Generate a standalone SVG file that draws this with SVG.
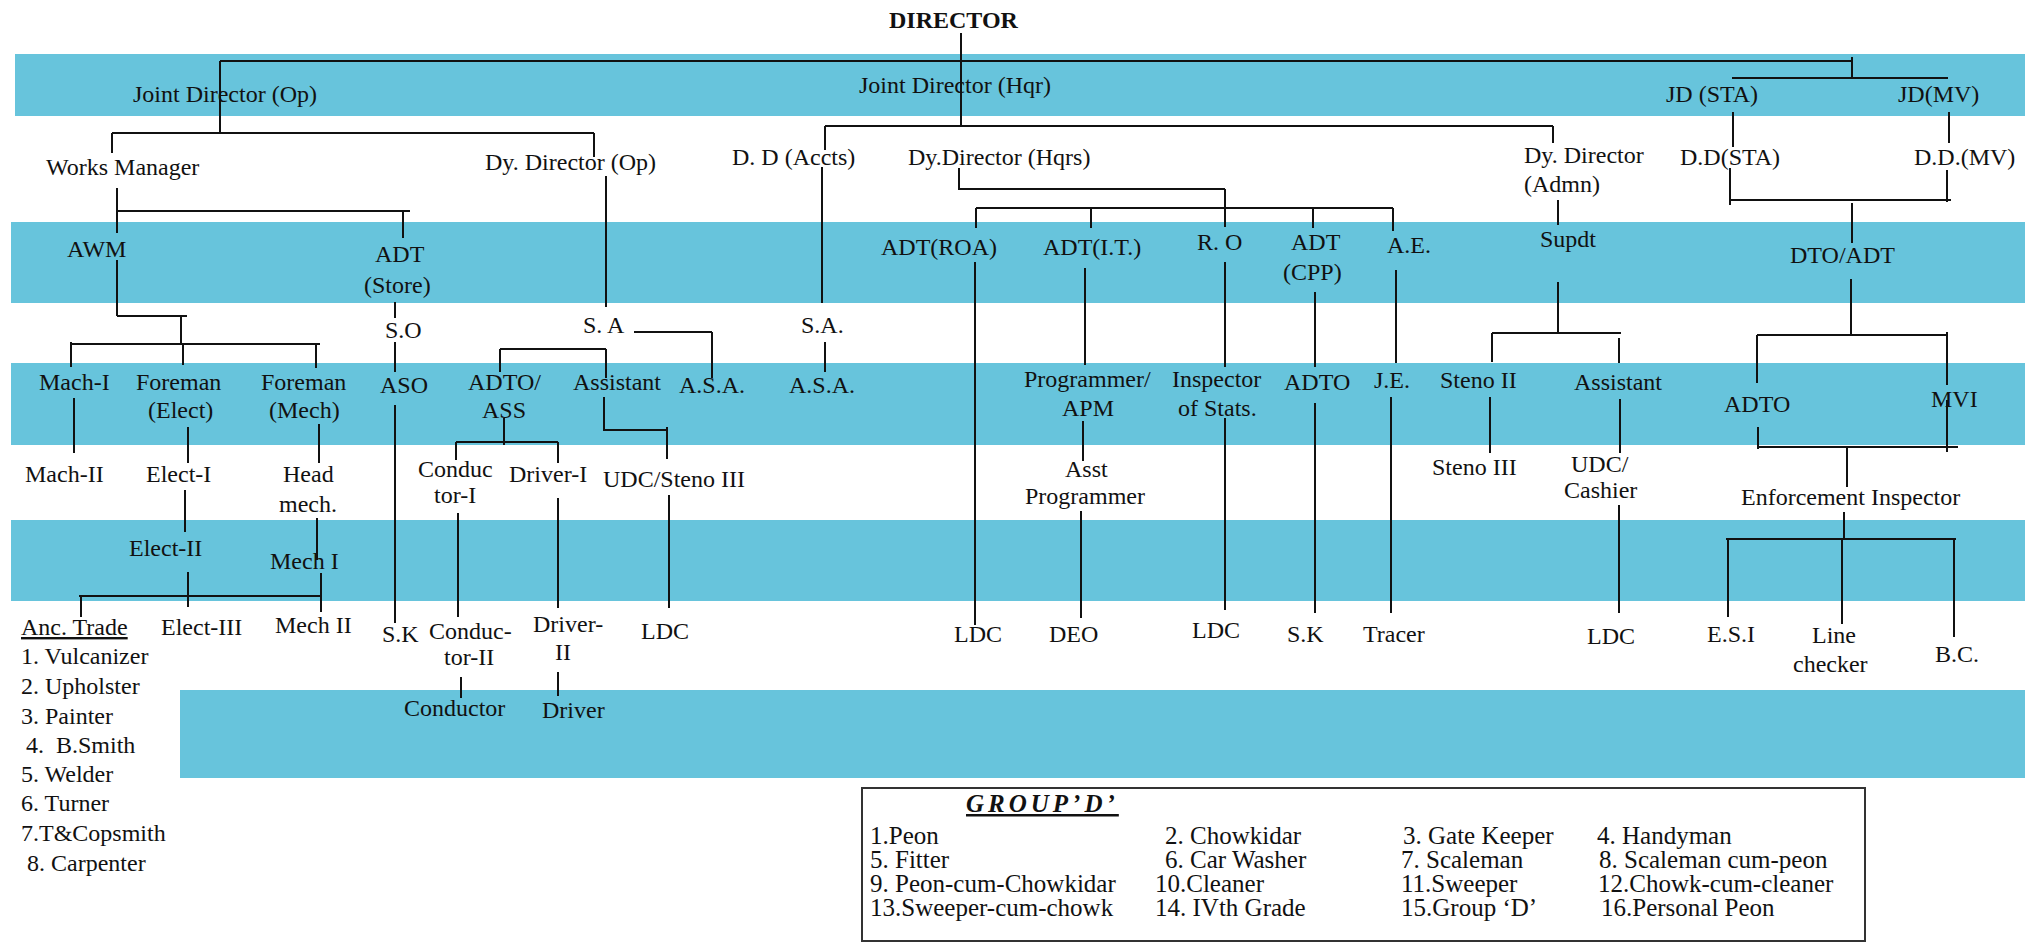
<svg xmlns="http://www.w3.org/2000/svg" width="2025" height="947" viewBox="0 0 2025 947">
<style>
  .band { fill: #67c4dc; }
  .t { font-family: "Liberation Serif", "Times New Roman", serif; font-size: 24px; fill: #111; }
  .b { font-weight: bold; }
  .c path { stroke: #111; stroke-width: 2; fill: none; }
  .box { fill: none; stroke: #333; stroke-width: 2; }
  .gd { font-family: "Liberation Serif", "Times New Roman", serif; font-size: 25px; fill: #111; }
</style>
<rect width="2025" height="947" fill="#ffffff"/>

<!-- horizontal colour bands -->
<g id="bands">
  <rect class="band" x="15" y="54" width="2010" height="62"/>
  <rect class="band" x="11" y="222" width="2014" height="81"/>
  <rect class="band" x="11" y="363" width="2014" height="82"/>
  <rect class="band" x="11" y="520" width="2014" height="81"/>
  <rect class="band" x="180" y="690" width="1845" height="88"/>
</g>

<!-- reporting lines -->
<g id="connectors" class="c">
  <path d="M961 33V125"/>
  <path d="M220 61H1852M1852 57V78M1732 78H1948"/>
  <path d="M220 61V133M112 133H594M112 133V153M594 133V157"/>
  <path d="M825 126H1553M825 126V150M1553 126V143"/>
  <path d="M117 188V233M117 211H410M403 211V238"/>
  <path d="M117 260V316M117 316H187M181 316V344"/>
  <path d="M71 344H320M71 342V367M183 344V365M316 344V368"/>
  <path d="M606 176V307"/>
  <path d="M395 302V318M395 342V372M395 405V623"/>
  <path d="M634 332H712M712 332V378"/>
  <path d="M500 349H606M500 349V372M606 349V378"/>
  <path d="M604 397V430H667M667 427V459"/>
  <path d="M504 418V445M456 442H558M456 442V460M558 442V463"/>
  <path d="M822 167V303M825 342V372"/>
  <path d="M959 168V189H1225M1225 189V227"/>
  <path d="M976 208H1393M976 208V228M1091 208V228M1313 208V228M1393 208V231"/>
  <path d="M975 262V625"/>
  <path d="M1085 268V365M1083 421V461M1081 511V618"/>
  <path d="M1225 262V367M1225 418V610"/>
  <path d="M1315 292V367M1315 403V613"/>
  <path d="M1396 270V363M1391 397V613"/>
  <path d="M1558 200V225M1558 282V333M1492 333H1621M1492 333V362M1619 338V363"/>
  <path d="M1490 397V453M1620 399V453M1619 505V613"/>
  <path d="M1733 112V147M1730 168V205M1949 112V143M1947 170V202M1729 200H1951"/>
  <path d="M1852 203V243M1851 279V335M1757 335H1947M1757 335V383M1947 332V385"/>
  <path d="M1758 427V449M1947 400V452M1758 447H1958M1847 447V487"/>
  <path d="M1844 512V539M1726 539H1956M1728 539V617M1842 539V624M1954 539V637"/>
  <path d="M74 398V453M188 427V463M319 424V463"/>
  <path d="M185 490V532M317 518V560M188 572V607"/>
  <path d="M79 596H321M81 596V617M321 573V612"/>
  <path d="M458 513V617M558 498V608M669 495V608"/>
  <path d="M461 677V698M558 672V696"/>
</g>

<!-- posts -->
<g id="director"><text class="t b" x="889" y="28" font-size="25">DIRECTOR</text></g>
<g id="jd-op"><text class="t" x="133" y="102">Joint Director (Op)</text></g>
<g id="jd-hqr"><text class="t" x="859" y="93">Joint Director (Hqr)</text></g>
<g id="jd-sta"><text class="t" x="1666" y="102">JD (STA)</text></g>
<g id="jd-mv"><text class="t" x="1898" y="102">JD(MV)</text></g>
<g id="works-manager"><text class="t" x="46" y="175">Works Manager</text></g>
<g id="dd-op"><text class="t" x="485" y="170">Dy. Director (Op)</text></g>
<g id="dd-accts"><text class="t" x="732" y="165">D. D (Accts)</text></g>
<g id="dd-hqrs"><text class="t" x="908" y="165">Dy.Director (Hqrs)</text></g>
<g id="dd-admn"><text class="t" x="1524" y="163">Dy. Director</text><text class="t" x="1524" y="192">(Admn)</text></g>
<g id="dd-sta"><text class="t" x="1680" y="165">D.D(STA)</text></g>
<g id="dd-mv"><text class="t" x="1914" y="165">D.D.(MV)</text></g>

<g id="awm"><text class="t" x="67" y="257">AWM</text></g>
<g id="adt-store"><text class="t" x="375" y="262">ADT</text><text class="t" x="364" y="293">(Store)</text></g>
<g id="adt-roa"><text class="t" x="881" y="255">ADT(ROA)</text></g>
<g id="adt-it"><text class="t" x="1043" y="255">ADT(I.T.)</text></g>
<g id="ro"><text class="t" x="1197" y="250">R. O</text></g>
<g id="adt-cpp"><text class="t" x="1291" y="250">ADT</text><text class="t" x="1283" y="280">(CPP)</text></g>
<g id="ae"><text class="t" x="1387" y="253">A.E.</text></g>
<g id="supdt"><text class="t" x="1540" y="247">Supdt</text></g>
<g id="dto-adt"><text class="t" x="1790" y="263">DTO/ADT</text></g>

<g id="so"><text class="t" x="385" y="338">S.O</text></g>
<g id="sa-op"><text class="t" x="583" y="333">S. A</text></g>
<g id="sa-accts"><text class="t" x="801" y="333">S.A.</text></g>

<g id="mach-1"><text class="t" x="39" y="390">Mach-I</text></g>
<g id="foreman-elect"><text class="t" x="136" y="390">Foreman</text><text class="t" x="148" y="418">(Elect)</text></g>
<g id="foreman-mech"><text class="t" x="261" y="390">Foreman</text><text class="t" x="269" y="418">(Mech)</text></g>
<g id="aso"><text class="t" x="380" y="393">ASO</text></g>
<g id="adto-ass"><text class="t" x="468" y="390">ADTO/</text><text class="t" x="482" y="418">ASS</text></g>
<g id="assistant-op"><text class="t" x="573" y="390">Assistant</text></g>
<g id="asa-op"><text class="t" x="679" y="393">A.S.A.</text></g>
<g id="asa-accts"><text class="t" x="789" y="393">A.S.A.</text></g>
<g id="programmer-apm"><text class="t" x="1024" y="387">Programmer/</text><text class="t" x="1062" y="416">APM</text></g>
<g id="inspector-stats"><text class="t" x="1172" y="387">Inspector</text><text class="t" x="1178" y="416">of Stats.</text></g>
<g id="adto-cpp"><text class="t" x="1284" y="390">ADTO</text></g>
<g id="je"><text class="t" x="1374" y="388">J.E.</text></g>
<g id="steno-2"><text class="t" x="1440" y="388">Steno II</text></g>
<g id="assistant-admn"><text class="t" x="1574" y="390">Assistant</text></g>
<g id="adto-dto"><text class="t" x="1724" y="412">ADTO</text></g>
<g id="mvi"><text class="t" x="1931" y="407">MVI</text></g>

<g id="mach-2"><text class="t" x="25" y="482">Mach-II</text></g>
<g id="elect-1"><text class="t" x="146" y="482">Elect-I</text></g>
<g id="head-mech"><text class="t" x="283" y="482">Head</text><text class="t" x="279" y="512">mech.</text></g>
<g id="conductor-1"><text class="t" x="418" y="477">Conduc</text><text class="t" x="434" y="503">tor-I</text></g>
<g id="driver-1"><text class="t" x="509" y="482">Driver-I</text></g>
<g id="udc-steno"><text class="t" x="603" y="487">UDC/Steno III</text></g>
<g id="asst-programmer"><text class="t" x="1065" y="477">Asst</text><text class="t" x="1025" y="504">Programmer</text></g>
<g id="steno-3"><text class="t" x="1432" y="475">Steno III</text></g>
<g id="udc-cashier"><text class="t" x="1571" y="472">UDC/</text><text class="t" x="1564" y="498">Cashier</text></g>
<g id="enforcement-inspector"><text class="t" x="1741" y="505">Enforcement Inspector</text></g>

<g id="elect-2"><text class="t" x="129" y="556">Elect-II</text></g>
<g id="mech-1"><text class="t" x="270" y="569">Mech I</text></g>

<g id="anc-trade">
  <text class="t" x="21" y="635" text-decoration="underline">Anc. Trade</text>
  <text class="t" x="21" y="664">1. Vulcanizer</text>
  <text class="t" x="21" y="694">2. Upholster</text>
  <text class="t" x="21" y="724">3. Painter</text>
  <text class="t" x="26" y="753" xml:space="preserve">4.  B.Smith</text>
  <text class="t" x="21" y="782">5. Welder</text>
  <text class="t" x="21" y="811">6. Turner</text>
  <text class="t" x="21" y="841">7.T&amp;Copsmith</text>
  <text class="t" x="27" y="871">8. Carpenter</text>
</g>
<g id="elect-3"><text class="t" x="161" y="635">Elect-III</text></g>
<g id="mech-2"><text class="t" x="275" y="633">Mech II</text></g>
<g id="sk-store"><text class="t" x="382" y="642">S.K</text></g>
<g id="conductor-2"><text class="t" x="429" y="639">Conduc-</text><text class="t" x="444" y="665">tor-II</text></g>
<g id="driver-2"><text class="t" x="533" y="632">Driver-</text><text class="t" x="555" y="660">II</text></g>
<g id="ldc-op"><text class="t" x="641" y="639">LDC</text></g>
<g id="ldc-roa"><text class="t" x="954" y="642">LDC</text></g>
<g id="deo"><text class="t" x="1049" y="642">DEO</text></g>
<g id="ldc-ro"><text class="t" x="1192" y="638">LDC</text></g>
<g id="sk-cpp"><text class="t" x="1287" y="642">S.K</text></g>
<g id="tracer"><text class="t" x="1363" y="642">Tracer</text></g>
<g id="ldc-admn"><text class="t" x="1587" y="644">LDC</text></g>
<g id="esi"><text class="t" x="1707" y="642">E.S.I</text></g>
<g id="line-checker"><text class="t" x="1812" y="643">Line</text><text class="t" x="1793" y="672">checker</text></g>
<g id="bc"><text class="t" x="1935" y="662">B.C.</text></g>
<g id="conductor"><text class="t" x="404" y="716">Conductor</text></g>
<g id="driver"><text class="t" x="542" y="718">Driver</text></g>

<!-- Group D list -->
<g id="group-d">
  <rect class="box" x="862" y="788" width="1003" height="153"/>
  <text class="gd b" x="966" y="812" font-style="italic" text-decoration="underline" letter-spacing="4">GROUP’D’</text>
  <text class="gd" x="870" y="844">1.Peon</text>
  <text class="gd" x="1165" y="844">2. Chowkidar</text>
  <text class="gd" x="1403" y="844">3. Gate Keeper</text>
  <text class="gd" x="1597" y="844">4. Handyman</text>
  <text class="gd" x="870" y="868">5. Fitter</text>
  <text class="gd" x="1165" y="868">6. Car Washer</text>
  <text class="gd" x="1401" y="868">7. Scaleman</text>
  <text class="gd" x="1599" y="868">8. Scaleman cum-peon</text>
  <text class="gd" x="870" y="892">9. Peon-cum-Chowkidar</text>
  <text class="gd" x="1155" y="892">10.Cleaner</text>
  <text class="gd" x="1401" y="892">11.Sweeper</text>
  <text class="gd" x="1598" y="892">12.Chowk-cum-cleaner</text>
  <text class="gd" x="870" y="916">13.Sweeper-cum-chowk</text>
  <text class="gd" x="1155" y="916">14. IVth Grade</text>
  <text class="gd" x="1401" y="916">15.Group ‘D’</text>
  <text class="gd" x="1601" y="916">16.Personal Peon</text>
</g>
</svg>
